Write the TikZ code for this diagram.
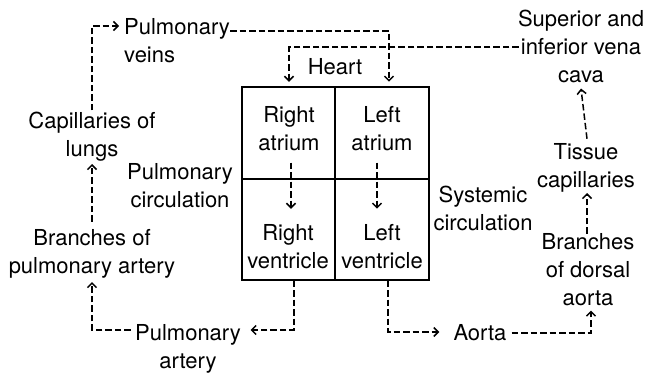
\documentclass[tikz,border=0pt]{standalone}
\usepackage{fontspec}
\setmainfont{TeX Gyre Heros}
\usetikzlibrary{arrows.meta}
\tikzset{
  lbl/.style={inner sep=0pt, align=center, anchor=base, font=\fontsize{22}{28}\selectfont},
  flow/.style={line width=1.5pt, dash pattern=on 6.5pt off 3pt,
    -{Straight Barb[length=4.5pt,width=9pt,line width=1.5pt]}},
  boxline/.style={line width=1.8pt}
}
\begin{document}
\begin{tikzpicture}[x=1pt,y=-1pt]
\useasboundingbox (0,0) rectangle (652,375);
% heart box
\draw[boxline] (242,87) rectangle (429,280);
\draw[boxline] (335,87) -- (335,280);
\draw[boxline] (242,179) -- (429,179);
% labels (anchor = baseline of last line)
\node[lbl, align=left, anchor=base west] (pv) at (124,62) {Pulmonary\\veins};
\node[lbl] (cava) at (581,82) {Superior and\\inferior vena\\cava};
\node[lbl] (heart) at (335,74) {Heart};
\node[lbl] (RA) at (289,150) {Right\\atrium};
\node[lbl] (LA) at (382,150) {Left\\atrium};
\node[lbl] (cap) at (92,156) {Capillaries of\\lungs};
\node[lbl] (pcirc) at (180,207) {Pulmonary\\circulation};
\node[lbl] (RV) at (288,268) {Right\\ventricle};
\node[lbl] (LV) at (382,268) {Left\\ventricle};
\node[lbl] (sys) at (483,230) {Systemic\\circulation};
\node[lbl] (tissue) at (586,187) {Tissue\\capillaries};
\node[lbl] (bpa) at (92,273) {Branches of\\pulmonary artery};
\node[lbl] (bda) at (588,305) {Branches\\of dorsal\\aorta};
\node[lbl] (pa) at (188,368) {Pulmonary\\artery};
\node[lbl] (aorta) at (480,340) {Aorta};
% connectors
\draw[flow] ([yshift=1pt]cap.north) |- ([xshift=-5pt,yshift=36pt]pv.base west);
\draw[flow] ([xshift=106pt,yshift=31pt]pv.base west) -| ([xshift=7pt,yshift=24pt]LA.north);
\draw[flow] ([xshift=1pt,yshift=-1pt]cava.west) -| ([yshift=24pt]RA.north);
\draw[flow] ([xshift=2pt,yshift=-12pt]RA.south) -- ([xshift=3pt,yshift=15pt]RV.north);
\draw[flow] ([xshift=-5pt,yshift=-12pt]LA.south) -- ([xshift=-5pt,yshift=15pt]LV.north);
\draw[flow] ([xshift=6pt,yshift=-12pt]RV.south) |- ([xshift=9.5pt,yshift=38pt]pa.base east);
\draw[flow] ([xshift=-4pt,yshift=38pt]pa.base west) -| ([yshift=-4pt]bpa.south);
\draw[flow] ([yshift=7pt]bpa.north) -- ([yshift=-3pt]cap.south);
\draw[flow] ([xshift=6pt,yshift=-12pt]LV.south) |- ([xshift=-14pt,yshift=8pt]aorta.base west);
\draw[flow] ([xshift=5pt,yshift=7pt]aorta.base east) -| ([xshift=3pt,yshift=-5pt]bda.south);
\draw[flow] ([xshift=-1pt,yshift=-1pt]bda.north) -- ([xshift=1pt,yshift=-1pt]tissue.south);
\draw[flow] ([xshift=1pt,yshift=4pt]tissue.north) -- ([yshift=-6pt]cava.south);
\end{tikzpicture}
\end{document}
